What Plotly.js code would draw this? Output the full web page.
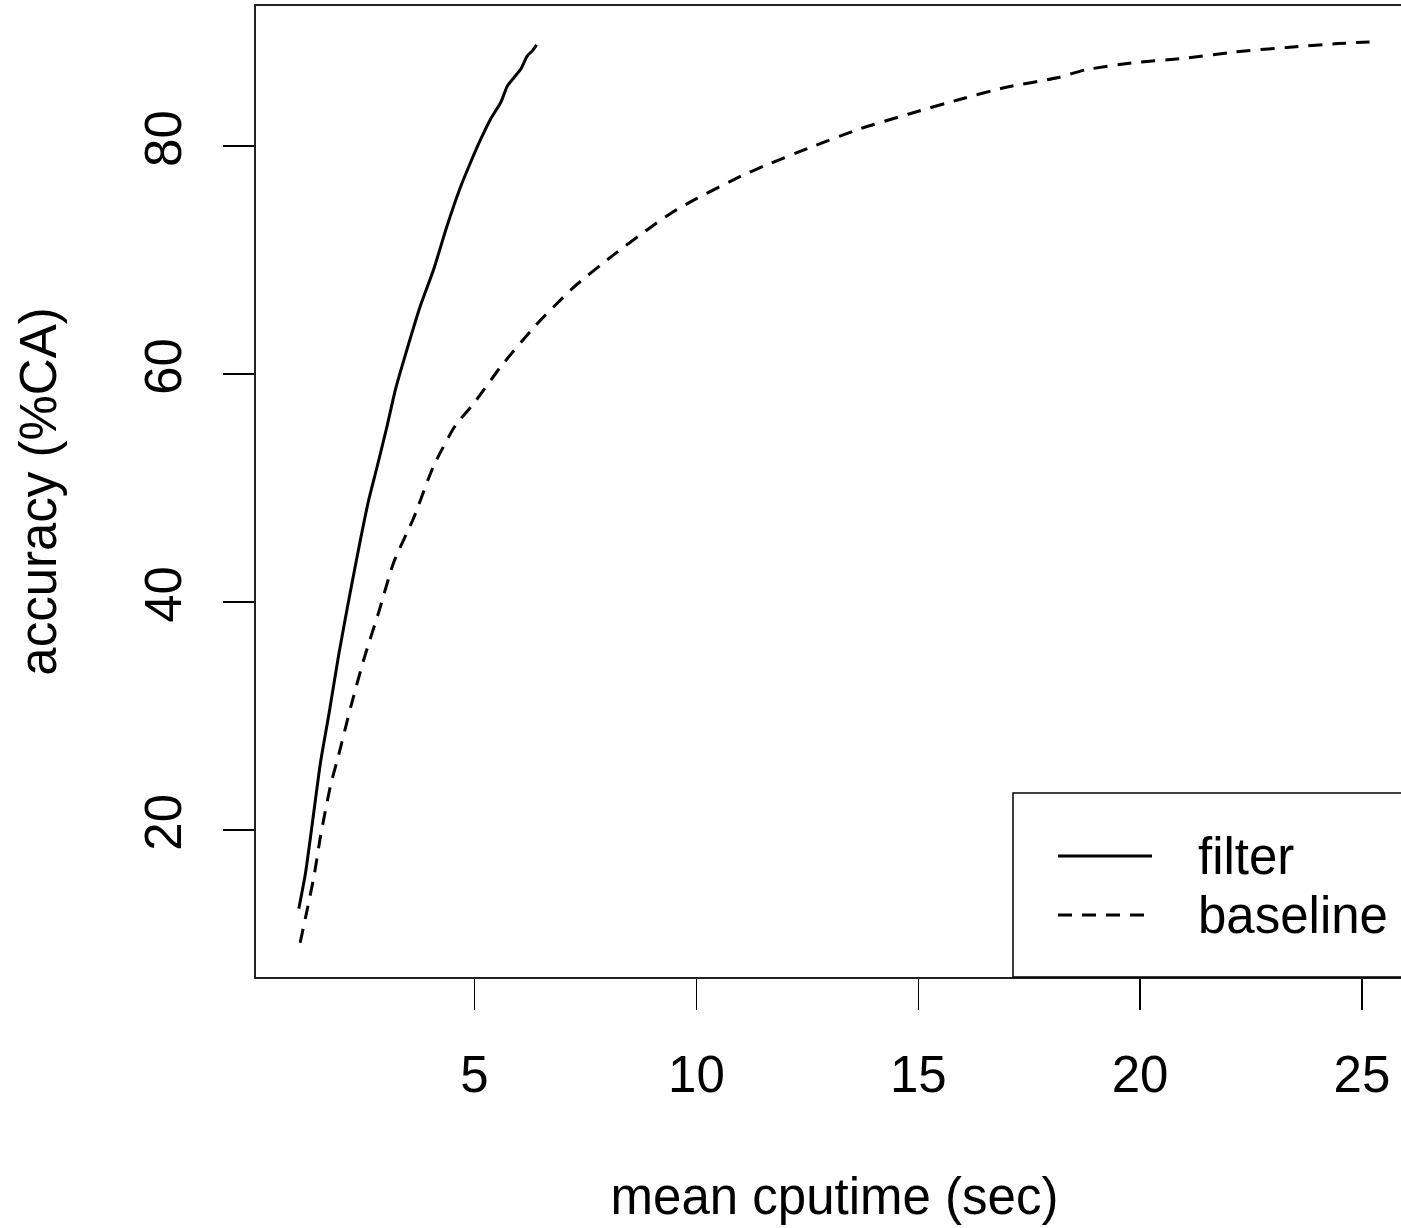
<!DOCTYPE html>
<html>
<head>
<meta charset="utf-8">
<script src="https://cdn.plot.ly/plotly-3.0.1.min.js"></script>
<style>
html, body { margin:0; padding:0; overflow:hidden; background:#fff; }
#chart { width:1420px; height:1228px; }
</style>
</head>
<body>
<div id="chart"></div>
<script>
// ---- data ----
const seriesNames = ["filter", "baseline"];

const filterX = [1.04, 1.19, 1.34, 1.53, 1.72, 1.94, 2.17, 2.43, 2.62, 2.81, 3.03, 3.22, 3.48, 3.78, 4.08, 4.38, 4.68, 4.91, 5.14, 5.36, 5.59, 5.74, 5.89, 6.04, 6.19, 6.30, 6.40];
const filterY = [13.1, 16.2, 20.45, 25.96, 30.2, 35.4, 40.26, 45.5, 49.04, 51.96, 55.46, 58.68, 62.19, 65.99, 69.2, 73.0, 76.38, 78.57, 80.61, 82.37, 83.83, 85.29, 86.03, 86.75, 87.92, 88.36, 88.89];

const baselineX = [1.07, 1.19, 1.38, 1.53, 1.76, 1.94, 2.21, 2.51, 2.84, 3.18, 3.63, 4.08, 4.57, 4.98, 5.59, 6.36, 7.20, 8.11, 9.01, 9.46, 9.98, 11.02, 11.53, 12.57, 13.67, 14.77, 15.93, 16.96, 18.13, 18.77, 19.81, 20.97, 22.14, 23.30, 24.46, 25.17];
const baselineY = [10.11, 12.3, 15.9, 19.47, 24.0, 26.6, 30.8, 35.04, 39.1, 43.5, 47.4, 51.96, 55.5, 57.4, 60.65, 64.2, 67.5, 70.4, 73.0, 74.2, 75.35, 77.4, 78.27, 79.9, 81.5, 82.8, 84.1, 85.15, 86.0, 86.7, 87.3, 87.7, 88.27, 88.66, 89.0, 89.15];

const xTicks = [5, 10, 15, 20, 25];
const yTicks = [20, 40, 60, 80];

const xTitle = "mean cputime (sec)";
const yTitle = "accuracy (%CA)";

// ---- styling ----
const FONT = "Liberation Sans, Arial, Helvetica, sans-serif";
const FS = 51;
const DASH = "14px,10px";

const traces = [
  { x: filterX, y: filterY, type: "scatter", mode: "lines", name: seriesNames[0],
    line: { color: "#000", width: 3, shape: "spline", smoothing: 0.6 }, showlegend: false },
  { x: baselineX, y: baselineY, type: "scatter", mode: "lines", name: seriesNames[1],
    line: { color: "#000", width: 3, dash: DASH, shape: "spline", smoothing: 0.6 }, showlegend: false }
];

// plot area in px: left 256, right 1413, top 6, bottom 977
const L = 256, R = 1413, T = 6, B = 977;
const px = v => (v - L) / (R - L);
const py = v => (B - v) / (B - T);

const layout = {
  width: 1420, height: 1228,
  margin: { l: L, r: 1420 - R, t: T, b: 1228 - B, pad: 0 },
  paper_bgcolor: "#fff", plot_bgcolor: "#fff",
  font: { family: FONT, size: FS, color: "#000" },
  showlegend: false,
  xaxis: {
    range: [0.075, 26.15], tickmode: "array", tickvals: xTicks, ticktext: xTicks.map(String),
    ticks: "outside", ticklen: 31, tickwidth: 1.5, tickcolor: "#000",
    showgrid: false, zeroline: false,
    showline: true, mirror: true, linecolor: "#222", linewidth: 2,
    ticklabelstandoff: 21,
    tickfont: { family: FONT, size: FS, color: "#000" },
    title: { text: xTitle, font: { family: FONT, size: FS, color: "#000" }, standoff: 76 },
    automargin: false
  },
  yaxis: {
    range: [7.1, 92.3], tickmode: "array", tickvals: yTicks, ticktext: yTicks.map(String),
    ticks: "outside", ticklen: 31, tickwidth: 1.5, tickcolor: "#000",
    tickangle: -90,
    showgrid: false, zeroline: false,
    showline: true, mirror: true, linecolor: "#222", linewidth: 2,
    ticklabelstandoff: 22,
    tickfont: { family: FONT, size: FS, color: "#000" },
    title: { text: yTitle, font: { family: FONT, size: FS, color: "#000" }, standoff: 62 },
    automargin: false
  },
  shapes: [
    { type: "rect", xref: "paper", yref: "paper", x0: px(1013), x1: 1.0, y0: 0, y1: py(793),
      line: { color: "#000", width: 1.5 }, fillcolor: "rgba(0,0,0,0)" },
    { type: "line", xref: "paper", yref: "paper", x0: px(1058), x1: px(1152), y0: py(856), y1: py(856),
      line: { color: "#000", width: 3 } },
    { type: "line", xref: "paper", yref: "paper", x0: px(1058), x1: px(1152), y0: py(915), y1: py(915),
      line: { color: "#000", width: 3, dash: DASH } }
  ],
  annotations: [
    { xref: "paper", yref: "paper", x: px(1196), y: py(856), xanchor: "left", yanchor: "middle",
      text: seriesNames[0], showarrow: false, font: { family: FONT, size: FS, color: "#000" } },
    { xref: "paper", yref: "paper", x: px(1196), y: py(915), xanchor: "left", yanchor: "middle",
      text: seriesNames[1], showarrow: false, font: { family: FONT, size: FS, color: "#000" } }
  ]
};

Plotly.newPlot("chart", traces, layout, { staticPlot: true, displayModeBar: false });
</script>
</body>
</html>
